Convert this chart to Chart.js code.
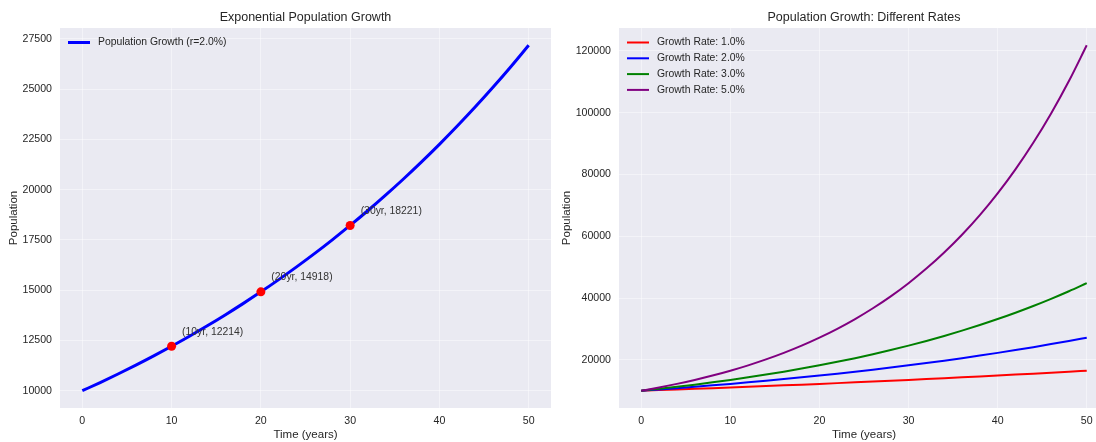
<!DOCTYPE html>
<html>
<head>
<meta charset="utf-8">
<script src="https://cdn.jsdelivr.net/npm/chart.js@4.4.0/dist/chart.umd.min.js"></script>
<style>
  html, body { margin: 0; padding: 0; background: #ffffff; overflow: hidden; width: 1096px; height: 442px; }
  .panel { position: absolute; top: 0; height: 442px; }
  #leftPanel { left: 0; width: 560px; }
  #rightPanel { left: 560px; width: 550px; }
</style>
</head>
<body>
<div class="panel" id="leftPanel"><canvas id="leftChart"></canvas></div>
<div class="panel" id="rightPanel"><canvas id="rightChart"></canvas></div>
<script>
// Years sampled along the curves
const years = [0, 2, 4, 6, 8, 10, 12, 14, 16, 18, 20, 22, 24, 26, 28, 30, 32, 34, 36, 38, 40, 42, 44, 46, 48, 50];

// Population for each growth rate
const pop1 = [10000, 10202, 10408, 10618, 10833, 11052, 11275, 11503, 11735, 11972, 12214, 12461, 12712, 12969, 13231, 13499, 13771, 14049, 14333, 14623, 14918, 15220, 15527, 15841, 16161, 16487];
const pop2 = [10000, 10408, 10833, 11275, 11735, 12214, 12712, 13231, 13771, 14333, 14918, 15527, 16161, 16820, 17507, 18221, 18965, 19739, 20544, 21383, 22255, 23164, 24109, 25093, 26117, 27183];
const pop3 = [10000, 10618, 11275, 11972, 12712, 13499, 14333, 15220, 16161, 17160, 18221, 19348, 20544, 21815, 23164, 24596, 26117, 27732, 29447, 31268, 33201, 35254, 37434, 39749, 42207, 44817];
const pop5 = [10000, 11052, 12214, 13499, 14918, 16487, 18221, 20138, 22255, 24596, 27183, 30042, 33201, 36693, 40552, 44817, 49530, 54739, 60496, 66859, 73891, 81662, 90250, 99742, 110232, 121825];

// Highlighted points on the 2% curve
const markerYears = [10, 20, 30];
const markerPops = [12214, 14918, 18221];

// Legend labels
const leftLabel = 'Population Growth (r=2.0%)';
const rateLabels = ['Growth Rate: 1.0%', 'Growth Rate: 2.0%', 'Growth Rate: 3.0%', 'Growth Rate: 5.0%'];

// Tick values
const xTicks = [0, 10, 20, 30, 40, 50];
const leftYTicks = [10000, 12500, 15000, 17500, 20000, 22500, 25000, 27500];
const rightYTicks = [20000, 40000, 60000, 80000, 100000, 120000];

const FONT = '"Liberation Sans", Arial, sans-serif';
const TEXT = '#262626';
const GRID = 'rgba(255,255,255,0.45)';
const toPts = (xs, ys) => xs.map((x, i) => ({ x: x, y: ys[i] }));

// Axes background, subplot titles and in-plot legends
const panelPlugin = {
  id: 'panel',
  beforeDraw(chart) {
    const { ctx, chartArea: a } = chart;
    ctx.save();
    ctx.fillStyle = '#EAEAF2';
    ctx.fillRect(a.left, a.top, a.right - a.left, a.bottom - a.top);
    ctx.restore();
  },
  afterDraw(chart) {
    const { ctx, chartArea: a } = chart;
    const o = chart.options.plugins.panel;
    ctx.save();
    ctx.fillStyle = TEXT;
    ctx.font = '12.5px ' + FONT;
    ctx.textAlign = 'center';
    ctx.textBaseline = 'middle';
    ctx.fillText(o.title, (a.left + a.right) / 2, 18);
    // legend
    ctx.font = '10.4px ' + FONT;
    ctx.textAlign = 'left';
    let y = a.top + 14.5;
    chart.data.datasets.forEach(ds => {
      if (!ds.legend) return;
      ctx.strokeStyle = ds.borderColor;
      ctx.lineWidth = ds.borderWidth;
      ctx.beginPath();
      ctx.moveTo(a.left + 8, y);
      ctx.lineTo(a.left + 30, y);
      ctx.stroke();
      ctx.fillStyle = TEXT;
      ctx.fillText(ds.label, a.left + 38, y);
      y += 15.8;
    });
    ctx.restore();
  }
};

// Value labels next to highlighted points
const annotatePlugin = {
  id: 'annotate',
  afterDatasetsDraw(chart) {
    if (!chart.options.plugins.annotate || !chart.options.plugins.annotate.on) return;
    const { ctx, scales } = chart;
    ctx.save();
    ctx.fillStyle = '#333333';
    ctx.font = '10.4px ' + FONT;
    ctx.textAlign = 'left';
    ctx.textBaseline = 'middle';
    markerYears.forEach((yr, i) => {
      const px = scales.x.getPixelForValue(yr);
      const py = scales.y.getPixelForValue(markerPops[i]);
      ctx.fillText('(' + yr + 'yr, ' + markerPops[i] + ')', px + 10.5, py - 14.5);
    });
    ctx.restore();
  }
};

function axes(xMin, xMax, yMin, yMax, yTicks, yWidth, yTitlePad) {
  return {
    x: {
      type: 'linear', min: xMin, max: xMax,
      border: { display: false },
      grid: { color: GRID, lineWidth: 1, drawTicks: false },
      ticks: { padding: 7, color: TEXT, font: { family: FONT, size: 10.6 }, callback: v => String(v) },
      afterBuildTicks: s => { s.ticks = xTicks.map(v => ({ value: v })); },
      afterFit: s => { s.height = 34; },
      title: { display: true, text: 'Time (years)', color: TEXT, font: { family: FONT, size: 11.5 }, padding: { top: 0, bottom: 0 } }
    },
    y: {
      type: 'linear', min: yMin, max: yMax,
      border: { display: false },
      grid: { color: GRID, lineWidth: 1, drawTicks: false },
      ticks: { padding: 8, color: TEXT, font: { family: FONT, size: 10.6 }, callback: v => String(v) },
      afterBuildTicks: s => { s.ticks = yTicks.map(v => ({ value: v })); },
      afterFit: s => { s.width = yWidth; },
      title: { display: true, text: 'Population', color: TEXT, font: { family: FONT, size: 11.5 }, padding: { top: yTitlePad, bottom: 0 } }
    }
  };
}

const common = {
  responsive: true,
  maintainAspectRatio: false,
  animation: false,
  events: [],
  elements: { point: { radius: 0 }, line: { tension: 0.4, cubicInterpolationMode: 'monotone' } }
};

new Chart(document.getElementById('leftChart'), {
  type: 'line',
  data: {
    datasets: [
      { label: leftLabel, legend: true, order: 2, data: toPts(years, pop2), borderColor: '#0000ff', borderWidth: 3, fill: false },
      { label: 'markers', order: 1, data: toPts(markerYears, markerPops), showLine: false, pointRadius: 4.5, pointBackgroundColor: '#ff0000', pointBorderWidth: 0, pointBorderColor: '#ff0000', borderColor: '#ff0000' }
    ]
  },
  options: Object.assign({}, common, {
    layout: { padding: { left: 0, right: 9, top: 28, bottom: 0 } },
    scales: axes(-2.5, 52.5, 9141, 28042, leftYTicks, 60, 7),
    plugins: { legend: { display: false }, tooltip: { enabled: false }, panel: { title: 'Exponential Population Growth' }, annotate: { on: true } }
  }),
  plugins: [panelPlugin, annotatePlugin]
});

const rateColors = ['#ff0000', '#0000ff', '#008000', '#800080'];
const rateSeries = [pop1, pop2, pop3, pop5];

new Chart(document.getElementById('rightChart'), {
  type: 'line',
  data: {
    datasets: rateSeries.map((s, i) => ({
      label: rateLabels[i], legend: true, order: 4 - i, data: toPts(years, s), borderColor: rateColors[i], borderWidth: 2, fill: false
    }))
  },
  options: Object.assign({}, common, {
    layout: { padding: { left: 0, right: 1, top: 28, bottom: 0 } },
    scales: axes(-2.5, 52.5, 4409, 127416, rightYTicks, 59, 0),
    plugins: { legend: { display: false }, tooltip: { enabled: false }, panel: { title: 'Population Growth: Different Rates' }, annotate: { on: false } }
  }),
  plugins: [panelPlugin, annotatePlugin]
});
</script>
</body>
</html>
